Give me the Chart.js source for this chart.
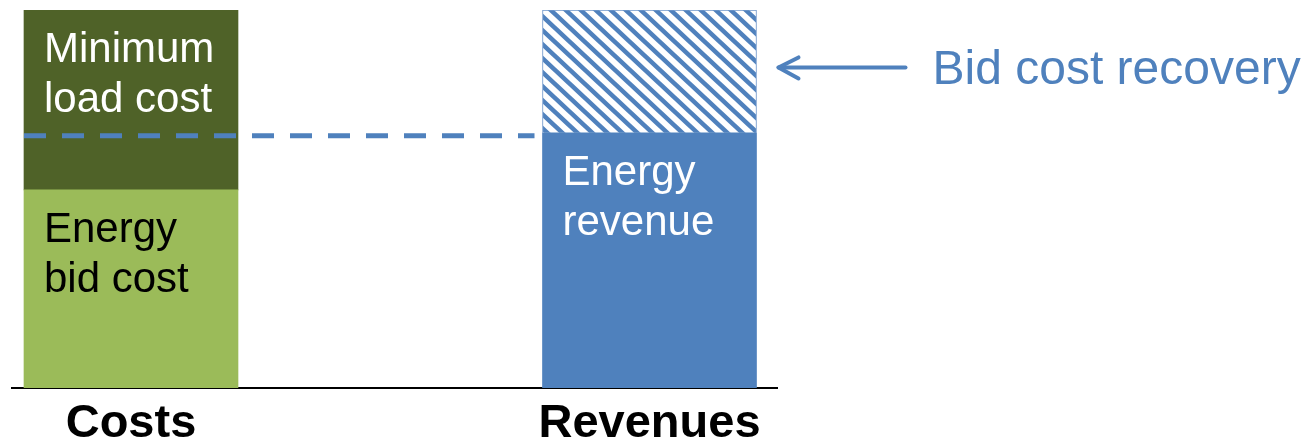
<!DOCTYPE html>
<html>
<head>
<meta charset="utf-8">
<title>Bid cost recovery</title>
<script src="https://cdn.jsdelivr.net/npm/chart.js@4.4.0/dist/chart.umd.min.js"></script>
<style>
  html, body { margin: 0; padding: 0; background: #fff; }
  #wrap { width: 1313px; height: 447px; }
</style>
</head>
<body>
<div id="wrap"><canvas id="chart" width="1313" height="447"></canvas></div>
<script>
// ── Data ─────────────────────────────────────────────
const categories    = ['Costs', 'Revenues'];
const costSeries    = ['Energy bid cost', 'Minimum load cost'];
const costValues    = [52.4, 47.6];
const revenueSeries = ['Energy revenue', 'Bid cost recovery'];
const revenueValues = [67.5, 32.5];

const BLUE       = '#4F81BD';
const DARK_GREEN = '#4F6228';
const LIGHT_GREEN= '#9BBB59';

// diagonal hatch for the bid cost recovery part
function makeHatch() {
    const w = 15, h = 14;
    const c = document.createElement('canvas');
    c.width = w; c.height = h;
    const g = c.getContext('2d');
    g.fillStyle = '#fff';
    g.fillRect(0, 0, w, h);
    g.strokeStyle = BLUE;
    g.lineWidth = 4.5;
    [-w, 0, w].forEach(x0 => {
        // extend each stripe past the tile so the seams join up
        g.beginPath();
        g.moveTo(x0 - w, -h);
        g.lineTo(x0 + 2 * w, 2 * h);
        g.stroke();
    });
    return g.createPattern(c, 'repeat');
}

// labels inside the bars: [dataset index, lines, colour]
const innerLabels = [
    [0, ['Energy', 'bid cost'], '#000'],
    [1, ['Minimum', 'load cost'], '#fff'],
    [2, ['Energy', 'revenue'], '#fff']
];

const overlay = {
    id: 'overlay',
    afterDatasetsDraw(chart) {
        const ctx = chart.ctx;
        const costBars = [chart.getDatasetMeta(0).data[0], chart.getDatasetMeta(1).data[0]];
        const revBars  = [chart.getDatasetMeta(2).data[0], chart.getDatasetMeta(3).data[0]];

        // text inside segments
        ctx.save();
        ctx.font = '42px "Liberation Sans", Arial, sans-serif';
        ctx.textAlign = 'left';
        ctx.textBaseline = 'alphabetic';
        innerLabels.forEach(([di, lines, col]) => {
            const b = chart.getDatasetMeta(di).data[0];
            const left = b.x - b.width / 2;
            ctx.fillStyle = col;
            lines.forEach((t, i) => ctx.fillText(t, left + 20, b.y + 52 + i * 50));
        });
        ctx.restore();

        // dashed level line from costs bar to revenue bar
        const lvl = revBars[0].y + 3;
        ctx.save();
        ctx.strokeStyle = BLUE;
        ctx.lineWidth = 5;
        ctx.setLineDash([22, 16]);
        ctx.beginPath();
        ctx.moveTo(costBars[0].x - costBars[0].width / 2, lvl);
        ctx.lineTo(revBars[0].x - revBars[0].width / 2 - 8, lvl);
        ctx.stroke();
        ctx.restore();

        // arrow + callout text
        const rec = revBars[1];
        const ay = (rec.y + rec.base) / 2 - 4;
        const ax = rec.x + rec.width / 2 + 22;
        ctx.save();
        ctx.strokeStyle = BLUE;
        ctx.lineWidth = 4;
        ctx.lineCap = 'round';
        ctx.lineJoin = 'round';
        ctx.beginPath();
        ctx.moveTo(ax + 127, ay);
        ctx.lineTo(ax, ay);
        ctx.stroke();
        ctx.beginPath();
        ctx.moveTo(ax + 20, ay - 10);
        ctx.lineTo(ax, ay);
        ctx.lineTo(ax + 20, ay + 11);
        ctx.stroke();
        ctx.fillStyle = BLUE;
        ctx.font = '48px "Liberation Sans", Arial, sans-serif';
        ctx.textBaseline = 'middle';
        ctx.fillText(revenueSeries[1], ax + 154, ay + 3);
        ctx.restore();
    }
};

const ctx = document.getElementById('chart').getContext('2d');
new Chart(ctx, {
    type: 'bar',
    data: {
        datasets: [
            { label: costSeries[0],    data: [{ x: 1, y: costValues[0] }],    backgroundColor: LIGHT_GREEN },
            { label: costSeries[1],    data: [{ x: 1, y: costValues[1] }],    backgroundColor: DARK_GREEN },
            { label: revenueSeries[0], data: [{ x: 2, y: revenueValues[0] }], backgroundColor: BLUE },
            { label: revenueSeries[1], data: [{ x: 2, y: revenueValues[1] }], backgroundColor: makeHatch(),
              borderColor: '#6F97CB', borderWidth: 1 }
        ]
    },
    options: {
        responsive: false,
        animation: false,
        barThickness: 214,
        layout: { padding: { top: 10, left: 12, right: 536, bottom: 0 } },
        plugins: { legend: { display: false }, tooltip: { enabled: false } },
        scales: {
            x: {
                type: 'linear',
                stacked: true,
                offset: false,
                min: 0.7705,
                max: 2.2459,
                afterBuildTicks: s => { s.ticks = categories.map((c, i) => ({ value: i + 1 })); },
                afterFit: s => { s.height = 59; },
                grid: { display: false, drawTicks: false, offset: false },
                border: { display: true, color: '#000', width: 2 },
                ticks: {
                    padding: 8,
                    color: '#000',
                    autoSkip: false,
                    maxRotation: 0,
                    font: { family: '"Liberation Sans", Arial, sans-serif', size: 47, weight: 'bold' },
                    callback: v => categories[v - 1] ?? ''
                }
            },
            y: {
                stacked: true,
                display: false,
                min: 0,
                max: 100
            }
        }
    },
    plugins: [overlay]
});
</script>
</body>
</html>
